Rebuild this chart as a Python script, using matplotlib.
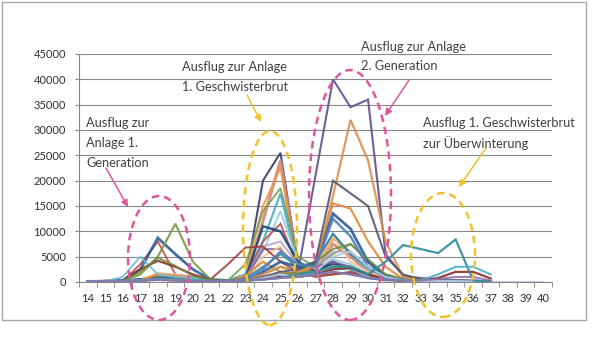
import numpy as np
import matplotlib
matplotlib.use("Agg")
import matplotlib.pyplot as plt
from matplotlib.patches import Ellipse, Rectangle, FancyArrowPatch

plt.rcParams['font.family'] = ['Lato', 'DejaVu Sans']

# Kalenderwochen
wochen = list(range(14, 41))

# Werte je Standort, KW 14..37 (danach keine Daten)
reihen = [
    [100, 200, 300, 400, 600, 500, 300, 200, 100, 200, 600, 900, 2000, 21000, 40000, 34500, 36000, 5500, 1200, 800, 500, 400, 300, 100],
    [100, 200, 300, 500, 700, 600, 300, 200, 100, 500, 20000, 25500, 3500, 2500, 3500, 3000, 1500, 800, 500, 300, 200, 200, 100, 50],
    [100, 150, 200, 300, 900, 700, 400, 200, 200, 1000, 12000, 24000, 3000, 2000, 7500, 5000, 2000, 700, 400, 300, 200, 200, 100, 50],
    [100, 150, 200, 400, 1500, 1200, 500, 200, 300, 1500, 15000, 22500, 2500, 3000, 8500, 6000, 3000, 1000, 500, 300, 200, 200, 100, 50],
    [100, 150, 200, 600, 1200, 1000, 500, 300, 300, 3500, 14000, 18500, 5000, 3000, 5500, 7500, 4000, 1500, 600, 300, 200, 200, 100, 50],
    [100, 150, 200, 300, 800, 600, 400, 200, 300, 1500, 8000, 17500, 3000, 3500, 9500, 5500, 2500, 800, 400, 300, 200, 200, 100, 50],
    [100, 150, 200, 300, 600, 500, 300, 200, 200, 1000, 6000, 14000, 4000, 2500, 4500, 3500, 1500, 600, 300, 200, 200, 200, 100, 50],
    [100, 150, 200, 3500, 8000, 1500, 1000, 300, 300, 800, 8000, 11500, 3000, 1500, 1500, 1800, 1000, 500, 300, 200, 200, 200, 100, 50],
    [100, 150, 200, 500, 800, 700, 400, 200, 200, 600, 11000, 10000, 4000, 2000, 4000, 2500, 800, 400, 300, 200, 200, 200, 100, 50],
    [100, 150, 200, 300, 500, 400, 300, 200, 200, 600, 7000, 8000, 3500, 3000, 6000, 6000, 3000, 1200, 400, 200, 200, 200, 100, 50],
    [100, 150, 200, 300, 700, 600, 400, 200, 200, 500, 6500, 6500, 2500, 3000, 4000, 3000, 1500, 600, 300, 200, 200, 200, 100, 50],
    [100, 150, 200, 300, 1800, 1500, 800, 300, 200, 600, 5000, 7000, 2000, 3500, 9000, 4000, 2000, 800, 300, 200, 200, 200, 100, 50],
    [100, 150, 200, 300, 500, 400, 300, 200, 200, 800, 3000, 5500, 3000, 4000, 9500, 5500, 3000, 1500, 400, 200, 200, 200, 100, 50],
    [100, 150, 200, 300, 1500, 1200, 700, 300, 200, 1200, 4000, 2000, 1500, 3500, 15500, 14500, 8000, 3000, 600, 300, 200, 200, 100, 50],
    [100, 150, 200, 300, 400, 300, 200, 500, 3500, 6800, 7000, 4000, 2000, 1000, 1500, 2000, 1000, 500, 300, 200, 200, 200, 100, 50],
    [100, 150, 300, 2500, 8700, 5500, 2500, 500, 300, 400, 2000, 4000, 3000, 3500, 13500, 10500, 4000, 1000, 400, 300, 200, 200, 100, 50],
    [100, 150, 200, 1500, 5000, 11500, 4000, 500, 300, 400, 1500, 3000, 2000, 2000, 3000, 3000, 1500, 600, 300, 200, 200, 200, 100, 50],
    [100, 150, 1000, 5000, 1500, 1000, 800, 300, 200, 300, 1000, 1500, 1000, 1500, 2500, 2500, 1000, 500, 300, 200, 200, 200, 100, 50],
    [100, 150, 200, 2500, 4200, 3000, 1500, 400, 200, 300, 800, 1000, 1000, 1500, 2500, 2800, 1500, 500, 300, 300, 800, 2000, 2000, 700],
    [100, 150, 200, 2000, 4800, 3200, 1200, 400, 200, 300, 1000, 1500, 2000, 4000, 6500, 7500, 4500, 1500, 500, 300, 200, 200, 100, 50],
    [100, 150, 200, 300, 600, 500, 300, 200, 200, 400, 1500, 3000, 2000, 3000, 17000, 32000, 24000, 8000, 1000, 500, 300, 200, 100, 50],
    [100, 150, 200, 300, 500, 400, 300, 200, 200, 400, 1000, 2000, 2500, 4000, 20000, 17500, 15000, 5000, 1500, 500, 300, 200, 100, 50],
    [100, 150, 200, 300, 500, 400, 300, 200, 200, 400, 2500, 6000, 3500, 3000, 12500, 9000, 3000, 800, 400, 200, 200, 200, 100, 50],
    [100, 150, 200, 300, 500, 400, 300, 200, 200, 300, 800, 1500, 1000, 2000, 5000, 6000, 3000, 1000, 300, 200, 200, 200, 100, 50, 0, 0, 0],
    [100, 150, 200, 300, 500, 400, 300, 200, 200, 300, 500, 800, 1500, 2000, 3000, 3000, 1500, 4000, 7300, 6500, 5700, 8400, 300, 100],
    [100, 150, 200, 300, 500, 400, 300, 200, 200, 300, 500, 800, 1000, 1500, 2000, 1500, 800, 500, 400, 300, 1500, 3000, 3000, 1500],
    [100, 150, 200, 300, 400, 300, 200, 200, 200, 300, 500, 800, 1000, 1500, 2000, 1500, 800, 500, 300, 300, 600, 1000, 1000, 300],
]

farben = ['#5F4F8F', '#3B3B6B', '#D08A78', '#F0954A', '#77A050', '#4BACC6',
          '#93CDDD', '#C0504D', '#1F497D', '#B3A2C7', '#8064A2', '#FAC090',
          '#31859C', '#E0883A', '#A0403A', '#2E5F99', '#7A9A48', '#6FC0D6',
          '#8B2E2A', '#6E8B3D', '#D9904E', '#5A5470', '#4F81BD', '#B9CDE5',
          '#2F8A9E', '#4DB0C8', '#9070A8']
breiten = [1.5, 1.5, 2.2, 1.4, 1.4, 1.6, 1.4, 1.4, 1.8, 1.4, 1.4, 1.4,
           1.4, 1.6, 1.4, 2.0, 1.6, 1.4, 1.6, 1.3, 1.6, 1.5, 1.8, 1.4,
           1.6, 1.5, 1.4]

W, H = 600, 338
fig = plt.figure(figsize=(6, 3.38), dpi=100)
ax = fig.add_axes([79 / W, 1 - 282 / H, (552 - 79) / W, (282 - 54) / H])

x = np.arange(len(wochen))
for werte, farbe, lw in zip(reihen, farben, breiten):
    ax.plot(x[:len(werte)], werte, color=farbe, lw=lw, alpha=0.9, solid_joinstyle='miter')

ax.set_xlim(-0.5, len(wochen) - 0.5)
ax.set_ylim(0, 45000)
ax.set_yticks(range(0, 45001, 5000))
ax.set_xticks(x)
ax.set_xticklabels([str(w) for w in wochen])
ax.set_xticks(np.arange(-0.5, len(wochen), 1), minor=True)
ax.tick_params(axis='x', which='major', length=0, pad=8, labelsize=8, colors='#303030')
ax.tick_params(axis='x', which='minor', length=3.6, color='#868686', direction='out')
ax.tick_params(axis='y', length=2.9, color='#868686', pad=6.5, labelsize=8, labelcolor='#303030')
ax.grid(True, axis='y', color='#868686', lw=0.8)
ax.set_axisbelow(True)
for s in ['top', 'right']:
    ax.spines[s].set_visible(False)
ax.spines['left'].set_color('#868686')
ax.spines['bottom'].set_color('#868686')

# Rahmen des Diagrammbereichs
fig.add_artist(Rectangle((2 / W, 1 - 320 / H), 584 / W, 318 / H, transform=fig.transFigure,
                         fill=False, ec='#A6A6A6', lw=1))

pink = '#E0569C'
gelb = '#F2C12E'

def fp(px, py):
    return (px / W, 1 - py / H)

# Texte
texte = [
    (86, 123, 'Ausflug zur'), (86, 143, 'Anlage 1.'), (86, 163, 'Generation'),
    (182, 67, 'Ausflug zur Anlage'), (182, 87, '1. Geschwisterbrut'),
    (361, 47, 'Ausflug zur Anlage'), (361, 66, '2. Generation'),
    (423, 123, 'Ausflug 1. Geschwisterbrut'), (423, 143, 'zur Überwinterung'),
]
for tx, ty, t in texte:
    fig.text(*fp(tx, ty), t, fontsize=9.2, color='#404040', ha='left', va='center')

# Gestrichelte Ellipsen
ellipsen = [((159, 258), 62, 124, pink), ((270, 228), 54, 194, gelb),
            ((350, 195), 82, 250, pink), ((443, 255), 64, 124, gelb)]
for (cx, cy), ew, eh, c in ellipsen:
    fig.add_artist(Ellipse(fp(cx, cy), ew / W, eh / H, transform=fig.transFigure,
                           fill=False, ec=c, lw=1.8, ls=(0, (3, 2))))

# Pfeile
pfeile = [((106, 168), (128, 207), pink), ((247, 95), (261, 122), gelb),
          ((409, 80), (385, 116), pink), ((486, 148), (459, 187), gelb)]
for a, b, c in pfeile:
    fig.add_artist(FancyArrowPatch(fp(*a), fp(*b), transform=fig.transFigure,
                                   arrowstyle='-|>', mutation_scale=10, color=c, lw=1.1,
                                   shrinkA=0, shrinkB=0))

fig.savefig('out.png', dpi=100, facecolor='white')
